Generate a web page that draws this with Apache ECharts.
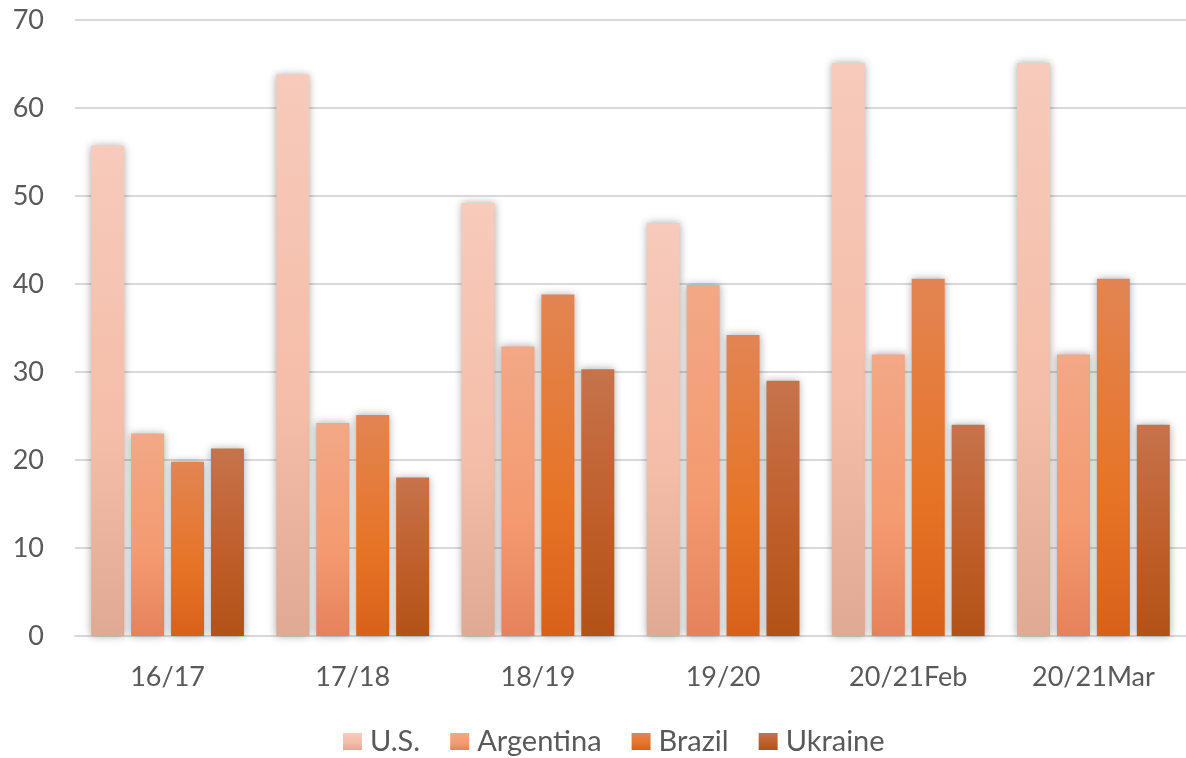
<!DOCTYPE html>
<html><head><meta charset="utf-8">
<script src="https://cdn.jsdelivr.net/npm/echarts@6/dist/echarts.min.js"></script>
<style>html,body{margin:0;padding:0;background:#fff}#c{width:1186px;height:758px}</style>
</head><body><div id="c"></div>
<script>
const categories = ['16/17','17/18','18/19','19/20','20/21Feb','20/21Mar'];
const seriesNames = ['U.S.','Argentina','Brazil','Ukraine'];
const usValues = [55.7, 63.8, 49.2, 46.9, 65.1, 65.1];
const argentinaValues = [23.0, 24.2, 32.9, 39.9, 32.0, 32.0];
const brazilValues = [19.8, 25.1, 38.8, 34.2, 40.6, 40.6];
const ukraineValues = [21.3, 18.0, 30.3, 29.0, 24.0, 24.0];
const yTicks = [0,10,20,30,40,50,60,70];

const gradients = [
  ['#f7cabb','#f4bda8','#e0a994'],
  ['#f2a886','#f49a70','#e5825c'],
  ['#e28553','#e67426','#d8611a'],
  ['#c6734c','#bf5d28','#b25217']
];
function grad(c){
  return new echarts.graphic.LinearGradient(0,0,0,1,[
    {offset:0,color:c[0]},{offset:0.6,color:c[1]},{offset:1,color:c[2]}]);
}
const allValues = [usValues, argentinaValues, brazilValues, ukraineValues];
const font = 'Lato, "Liberation Sans", sans-serif';
const chart = echarts.init(document.getElementById('c'));
chart.setOption({
  animation:false,
  backgroundColor:'#ffffff',
  grid:{left:75,width:1120,top:20,height:616,containLabel:false},
  legend:{
    top:727,left:343,padding:0,itemWidth:19,itemHeight:17,itemGap:30,icon:'rect',
    textStyle:{fontFamily:font,fontSize:29,color:'#595959',padding:[0,0,0,3]},
    data:seriesNames
  },
  xAxis:{
    type:'category',data:categories,
    axisLine:{lineStyle:{color:'#d9d9d9',width:2}},
    axisTick:{show:false},
    axisLabel:{fontFamily:font,fontSize:27,color:'#595959',margin:28}
  },
  yAxis:{
    type:'value',min:yTicks[0],max:yTicks[yTicks.length-1],interval:10,
    axisLine:{show:false},axisTick:{show:false},
    axisLabel:{fontFamily:font,fontSize:27,color:'#595959',margin:31},
    splitLine:{lineStyle:{color:'#d9d9d9',width:2}}
  },
  series: seriesNames.map((n,i)=>({
    name:n,type:'bar',data:allValues[i],
    barWidth:33,barGap:'21%',
    itemStyle:{color:grad(gradients[i]),shadowColor:'rgba(0,0,0,0.35)',shadowBlur:8,shadowOffsetX:0,shadowOffsetY:0}
  }))
});
</script></body></html>
